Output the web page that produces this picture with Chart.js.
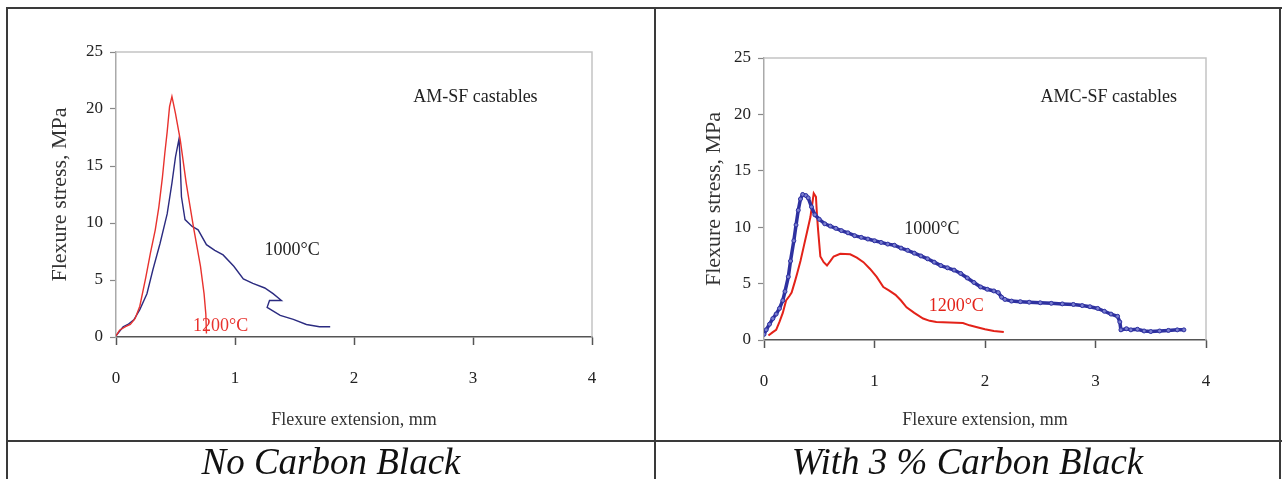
<!DOCTYPE html>
<html><head><meta charset="utf-8">
<script src="https://cdn.jsdelivr.net/npm/chart.js@4.4.0/dist/chart.umd.min.js"></script>
<style>
html,body{margin:0;padding:0;background:#fff;}
body{width:1284px;height:479px;overflow:hidden;position:relative;font-family:"Liberation Serif","Times New Roman",serif;}
.ln{position:absolute;background:#3a3a3a;}
canvas{position:absolute;top:0;}
#c1{left:0;}
#c2{left:657px;}
.cap{position:absolute;top:443px;height:38px;line-height:38px;font-style:italic;font-size:37px;text-align:center;color:#111;white-space:nowrap;}
</style></head><body>
<canvas id="c1" width="654" height="439"></canvas>
<canvas id="c2" width="622" height="439"></canvas>
<div class="ln" style="left:6px;top:7px;width:1276px;height:2px"></div>
<div class="ln" style="left:6px;top:7px;width:2px;height:472px"></div>
<div class="ln" style="left:654px;top:7px;width:2px;height:472px"></div>
<div class="ln" style="left:1279px;top:7px;width:2px;height:472px"></div>
<div class="ln" style="left:6px;top:440px;width:1276px;height:2px"></div>
<div class="cap" style="left:8px;width:646px">No Carbon Black</div>
<div class="cap" style="left:656px;width:623px">With 3 % Carbon Black</div>
<script>
// ---- Data ----
const xTicks = [0, 1, 2, 3, 4];
const yTicks = [0, 5, 10, 15, 20, 25];

// Left chart: AM-SF castables (No Carbon Black)
const amRed1200_x = [0.00,0.03,0.08,0.12,0.16,0.20,0.25,0.29,0.33,0.36,0.39,0.41,0.43,0.45,0.47,0.48,0.50,0.54,0.59,0.65,0.71,0.74,0.755,0.76];
const amRed1200_y = [0.1,0.6,0.9,1.1,1.6,2.7,5.2,7.4,9.4,11.4,14.0,16.1,18.0,20.2,21.1,20.6,19.6,17.3,13.5,9.7,6.2,3.8,2.0,0.3];
const amBlue1000_x = [0.00,0.03,0.06,0.10,0.15,0.20,0.26,0.31,0.37,0.43,0.47,0.50,0.53,0.54,0.55,0.58,0.64,0.69,0.76,0.83,0.90,0.99,1.07,1.15,1.25,1.32,1.39,1.29,1.27,1.38,1.49,1.60,1.71,1.80];
const amBlue1000_y = [0.1,0.5,0.9,1.1,1.5,2.4,3.8,5.9,8.2,10.8,13.5,15.8,17.4,15.2,12.3,10.3,9.7,9.4,8.1,7.6,7.2,6.2,5.1,4.7,4.3,3.8,3.2,3.2,2.6,1.9,1.55,1.1,0.9,0.9];

// Right chart: AMC-SF castables (With 3 % Carbon Black)
const amcRed1200_x = [0.04,0.08,0.11,0.14,0.17,0.20,0.23,0.25,0.28,0.30,0.33,0.36,0.39,0.42,0.44,0.45,0.47,0.48,0.49,0.51,0.54,0.57,0.60,0.63,0.69,0.78,0.84,0.90,0.96,1.02,1.08,1.13,1.19,1.24,1.29,1.36,1.44,1.50,1.56,1.68,1.80,1.86,1.92,2.00,2.08,2.17];
const amcRed1200_y = [0.4,0.7,0.9,1.6,2.4,3.5,3.9,4.2,5.2,5.9,7.0,8.3,9.6,10.9,12.3,13.0,12.7,11.0,9.7,7.4,6.9,6.6,7.0,7.4,7.65,7.6,7.3,6.9,6.3,5.6,4.7,4.4,4.0,3.5,2.9,2.4,1.9,1.7,1.6,1.55,1.5,1.3,1.15,0.95,0.8,0.7];
const amcBlue1000_x = [0.00,0.02,0.05,0.08,0.11,0.14,0.17,0.19,0.22,0.24,0.27,0.29,0.31,0.33,0.35,0.38,0.40,0.43,0.46,0.50,0.55,0.60,0.65,0.70,0.76,0.82,0.88,0.94,1.00,1.06,1.12,1.18,1.24,1.30,1.36,1.42,1.48,1.54,1.60,1.66,1.72,1.78,1.84,1.90,1.96,2.02,2.08,2.12,2.15,2.18,2.24,2.32,2.40,2.50,2.60,2.70,2.80,2.88,2.95,3.02,3.08,3.14,3.20,3.22,3.23,3.28,3.32,3.38,3.44,3.50,3.58,3.66,3.74,3.80];
const amcBlue1000_y = [0.5,0.9,1.4,1.9,2.3,2.8,3.5,4.3,5.6,7.0,8.8,10.2,11.5,12.5,12.9,12.8,12.6,11.8,11.1,10.7,10.3,10.1,9.9,9.7,9.5,9.25,9.1,8.95,8.8,8.65,8.5,8.4,8.15,7.95,7.7,7.45,7.2,6.9,6.6,6.4,6.2,5.9,5.5,5.1,4.7,4.5,4.35,4.2,3.8,3.6,3.45,3.4,3.35,3.3,3.25,3.2,3.15,3.05,2.95,2.8,2.55,2.3,2.1,1.6,0.9,1.0,0.9,0.95,0.8,0.75,0.8,0.85,0.9,0.9];

// Text labels inside the plots (data coordinates)
const amLabels = [
  {text:'AM-SF castables', x:3.02, y:21.0, color:'#222'},
  {text:'1000°C', x:1.48, y:7.6, color:'#222'},
  {text:'1200°C', x:0.88, y:0.9, color:'#e8322e'}
];
const amcLabels = [
  {text:'AMC-SF castables', x:3.12, y:21.5, color:'#222'},
  {text:'1000°C', x:1.52, y:9.8, color:'#222'},
  {text:'1200°C', x:1.74, y:2.98, color:'#e32219'}
];

const FONT = 'Liberation Serif';
function pts(xs, ys){ return xs.map((x,i)=>({x:x, y:ys[i]})); }

const framePlugin = {
  id:'frame',
  beforeDatasetsDraw(chart){
    const {ctx, chartArea:a} = chart;
    ctx.save();
    ctx.strokeStyle = '#c4c4c4';
    ctx.lineWidth = 1.5;
    ctx.beginPath();
    ctx.moveTo(a.left, a.top); ctx.lineTo(a.right, a.top); ctx.lineTo(a.right, a.bottom);
    ctx.stroke();
    ctx.restore();
  }
};
const labelPlugin = {
  id:'plotLabels',
  afterDatasetsDraw(chart, args, opts){
    const {ctx, scales} = chart;
    ctx.save();
    ctx.font = opts.size + 'px "' + FONT + '"';
    ctx.textAlign = 'center';
    ctx.textBaseline = 'middle';
    (opts.items||[]).forEach(l=>{
      ctx.fillStyle = l.color;
      ctx.fillText(l.text, scales.x.getPixelForValue(l.x), scales.y.getPixelForValue(l.y));
    });
    ctx.restore();
  }
};

function makeChart(id, datasets, labels, cfg){
  return new Chart(document.getElementById(id), {
    type:'scatter',
    data:{datasets:datasets},
    options:{
      responsive:false, animation:false, devicePixelRatio:1,
      layout:{padding:{left:0, top:cfg.top, right:cfg.right, bottom:2}},
      plugins:{legend:{display:false}, tooltip:{enabled:false}, plotLabels:{items:labels, size:18}},
      scales:{
        x:{
          type:'linear', min:0, max:4,
          afterBuildTicks:(s)=>{ s.ticks = xTicks.map(v=>({value:v})); },
          ticks:{padding:cfg.xpad, color:'#222', font:{family:FONT, size:17}},
          grid:{drawOnChartArea:false, drawTicks:true, tickLength:8, tickColor:'#555', tickWidth:1.5},
          border:{display:true, color:'#555', width:1.5},
          title:{display:true, text:'Flexure extension, mm', color:'#333', font:{family:FONT, size:18}, padding:{top:0, bottom:6}},
          afterFit:(s)=>{ s.height = cfg.xh; }
        },
        y:{
          type:'linear', min:0, max:25,
          afterBuildTicks:(s)=>{ s.ticks = yTicks.map(v=>({value:v})); },
          ticks:{padding:7, color:'#222', font:{family:FONT, size:17}},
          grid:{drawOnChartArea:false, drawTicks:true, tickLength:6, tickColor:'#888', tickWidth:1.2},
          border:{display:true, color:'#aaa', width:1.5},
          title:{display:true, text:'Flexure stress, MPa', color:'#333', font:{family:FONT, size:22}, padding:{top:cfg.ytp, bottom:0}},
          afterFit:(s)=>{ s.width = cfg.yw; }
        }
      }
    },
    plugins:[framePlugin, labelPlugin]
  });
}

makeChart('c1', [
  {data:pts(amRed1200_x, amRed1200_y), showLine:true, borderColor:'#e8322e', borderWidth:1.4, pointRadius:0, tension:0},
  {data:pts(amBlue1000_x, amBlue1000_y), showLine:true, borderColor:'#2b2b80', borderWidth:1.4, pointRadius:0, tension:0}
], amLabels, {top:52, right:62, xh:100, yw:116, xpad:23, ytp:47});

makeChart('c2', [
  {data:pts(amcBlue1000_x, amcBlue1000_y), showLine:true, borderColor:'#2e31a0', borderWidth:3.5, pointRadius:2, pointBorderWidth:1, pointBorderColor:'#2e31a0', pointBackgroundColor:'#7a7ed0', tension:0},
  {data:pts(amcRed1200_x, amcRed1200_y), showLine:true, borderColor:'#e32219', borderWidth:2, pointRadius:0, tension:0}
], amcLabels, {top:58, right:73, xh:97, yw:107, xpad:23, ytp:44});
</script>
</body></html>
